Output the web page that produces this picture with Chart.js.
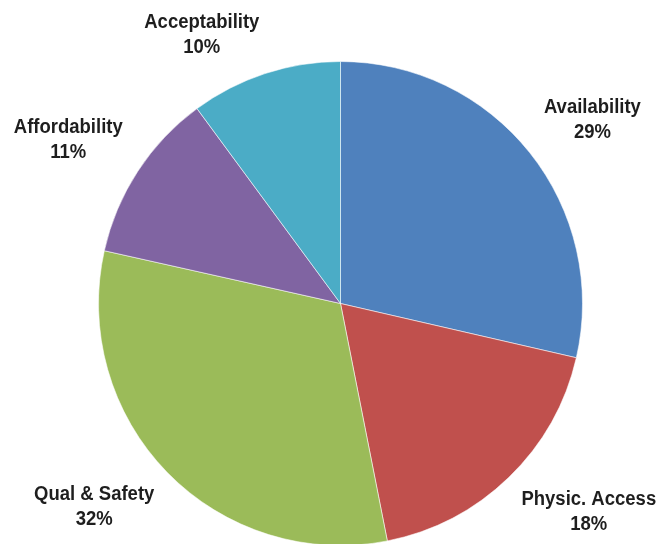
<!DOCTYPE html>
<html>
<head>
<meta charset="utf-8">
<script src="https://cdn.jsdelivr.net/npm/chart.js@4/dist/chart.umd.min.js"></script>
<style>
  html, body { margin: 0; padding: 0; background: #fff; overflow: hidden; }
  #wrap { width: 663px; height: 548px; }
</style>
</head>
<body>
<div id="wrap"><canvas id="pieChart" width="663" height="548"></canvas></div>
<script>
const categorias = ['Availability', 'Physic. Access', 'Qual & Safety', 'Affordability', 'Acceptability'];
const valores = [28.6, 18.3, 31.6, 11.4, 10.1];
const colores = ['#4F81BD', '#C0504D', '#9BBB59', '#8064A2', '#4BACC6'];

// etiquetas fuera del pastel, estilo Excel
const etiquetasExternas = {
  id: 'etiquetasExternas',
  afterDatasetsDraw(chart) {
    const ctx = chart.ctx;
    const arcs = chart.getDatasetMeta(0).data;
    const total = valores.reduce((a, b) => a + b, 0);
    const gap = 18;
    const lineH = 25;
    const stretch = 1.12;
    ctx.save();
    ctx.font = 'bold 18.5px "Liberation Sans", Arial, sans-serif';
    ctx.fillStyle = '#1e1e1e';
    ctx.textAlign = 'center';
    ctx.textBaseline = 'middle';
    arcs.forEach((arc, i) => {
      const mid = (arc.startAngle + arc.endAngle) / 2;
      const dx = Math.cos(mid), dy = Math.sin(mid);
      const ax = arc.x + (arc.outerRadius + gap) * dx;
      const ay = arc.y + (arc.outerRadius + gap) * dy;
      const lineas = [categorias[i], Math.round(valores[i] / total * 100) + '%'];
      const w = Math.max(...lineas.map(t => ctx.measureText(t).width));
      const h = 43;
      const cx = ax + Math.sign(dx) * w / 2;
      const cy = ay + Math.sign(dy) * h / 2;
      lineas.forEach((t, k) => {
        const y = cy + (k - 0.5) * lineH;
        ctx.save();
        ctx.translate(cx, y);
        ctx.scale(1, stretch);
        ctx.fillText(t, 0, 0);
        ctx.restore();
      });
    });
    ctx.restore();
  }
};

new Chart(document.getElementById('pieChart'), {
  type: 'pie',
  data: {
    labels: categorias,
    datasets: [{
      data: valores,
      backgroundColor: colores,
      borderColor: 'rgba(255,255,255,0.55)',
      borderWidth: 1
    }]
  },
  options: {
    responsive: false,
    animation: false,
    layout: { padding: { top: 61, bottom: 2, left: 98, right: 80 } },
    plugins: {
      legend: { display: false },
      tooltip: { enabled: false }
    }
  },
  plugins: [etiquetasExternas]
});
</script>
</body>
</html>
